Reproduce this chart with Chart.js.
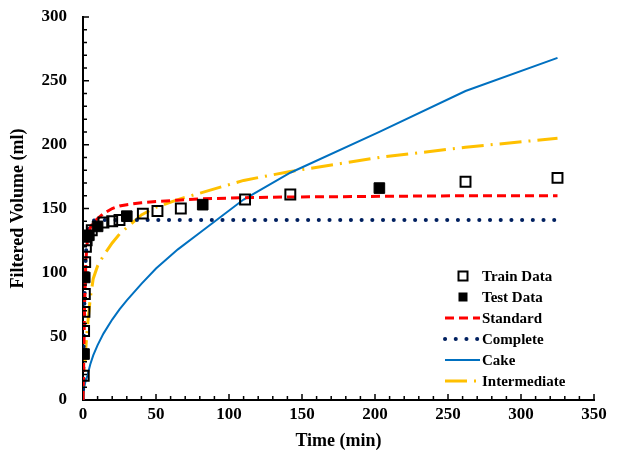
<!DOCTYPE html>
<html>
<head>
<meta charset="utf-8">
<script src="https://cdn.jsdelivr.net/npm/chart.js@4.4.1/dist/chart.umd.min.js"></script>
<style>
  html, body { margin: 0; padding: 0; background: #fff; }
  #wrap { width: 617px; height: 455px; }
</style>
</head>
<body>
<div id="wrap"><canvas id="filterChart" width="617" height="455"></canvas></div>
<script>
// Measured data
const trainTime = [0.5, 0.75, 1, 1.25, 1.5, 2, 2.5, 6, 14, 20, 25, 41, 51, 67, 111, 142, 262, 325];
const trainVolume = [19, 54, 69, 83, 108, 120, 125, 133, 139, 140, 141, 146, 148, 150, 157, 161, 171, 174];
const testTime = [0.7, 1.2, 4, 10, 30, 82, 203];
const testVolume = [36, 96, 129, 136, 144, 153, 166];

// Model curves, evaluated at the same times
const modelTime = [0, 0.5, 1, 2, 3, 5, 7, 10, 14, 20, 25, 30, 40, 50, 65, 80, 110, 142, 203, 262, 325];
const standardVolume = [0, 30, 70, 110, 125, 135, 139, 142, 146, 150, 152, 153, 154.5, 155.5, 156.5, 157.5, 158.5, 159, 159.5, 160, 160];
const completeVolume = [0, 40, 80, 115, 130, 138, 140.5, 141, 141, 141, 141, 141, 141, 141, 141, 141, 141, 141, 141, 141, 141];
const cakeVolume = [0, 7, 11, 16, 19, 28, 35, 43, 52, 63, 71, 78, 91, 103, 118, 131, 157, 178, 210, 242, 268];
const intermediateVolume = [0, 12, 22, 42, 57, 80, 95, 105, 113, 123, 130, 135, 145, 151, 157, 162, 172, 179, 190, 198, 205];

const xTicks = [0, 50, 100, 150, 200, 250, 300, 350];
const yTicks = [0, 50, 100, 150, 200, 250, 300];

const serif = '"Liberation Serif", "Times New Roman", serif';

function toPoints(xs, ys) {
    return xs.map((x, i) => ({ x: x, y: ys[i] }));
}

// Inward tick marks on both axes (minor every 10, major every 50)
const tickMarks = {
    id: 'tickMarks',
    afterDraw(chart) {
        const { ctx, chartArea, scales } = chart;
        ctx.save();
        ctx.strokeStyle = '#000';
        ctx.lineWidth = 1.5;
        ctx.beginPath();
        for (let v = 10; v <= 350; v += 10) {
            const px = scales.x.getPixelForValue(v);
            const len = v % 50 === 0 ? 6 : 4;
            ctx.moveTo(px, chartArea.bottom);
            ctx.lineTo(px, chartArea.bottom - len);
        }
        for (let v = 10; v <= 300; v += 10) {
            const py = scales.y.getPixelForValue(v);
            const len = v % 50 === 0 ? 6 : 4;
            ctx.moveTo(chartArea.left, py);
            ctx.lineTo(chartArea.left + len, py);
        }
        ctx.stroke();
        ctx.restore();
    }
};

// Legend drawn inside the plot, lower right
const insideLegend = {
    id: 'insideLegend',
    afterDraw(chart) {
        const ctx = chart.ctx;
        const x0 = 445, x1 = 480, textX = 482;
        const rows = [276, 297, 318, 339, 360, 381];
        ctx.save();
        ctx.font = 'bold 15px ' + serif;
        ctx.textBaseline = 'middle';
        ctx.fillStyle = '#000';
        chart.data.datasets.forEach((ds, i) => {
            const y = rows[i];
            if (!ds.showLine) {
                const s = 9;
                ctx.lineWidth = 2;
                ctx.strokeStyle = '#000';
                if (ds.backgroundColor === '#000') {
                    ctx.fillStyle = '#000';
                    ctx.fillRect(463 - s / 2, y - s / 2, s, s);
                } else {
                    ctx.strokeRect(463 - s / 2, y - s / 2, s, s);
                }
            } else {
                ctx.beginPath();
                ctx.strokeStyle = ds.borderColor;
                ctx.lineWidth = ds.borderWidth;
                ctx.lineCap = ds.borderCapStyle || 'butt';
                ctx.setLineDash(ds.borderDash || []);
                ctx.moveTo(x0, y);
                ctx.lineTo(x1, y);
                ctx.stroke();
                ctx.setLineDash([]);
                ctx.lineCap = 'butt';
            }
            ctx.fillStyle = '#000';
            ctx.fillText(ds.label, textX, y + 1);
        });
        ctx.restore();
    }
};

new Chart(document.getElementById('filterChart'), {
    type: 'scatter',
    data: {
        datasets: [
            {
                label: 'Train Data',
                data: toPoints(trainTime, trainVolume),
                pointStyle: 'rect',
                pointRadius: 7,
                borderColor: '#000',
                backgroundColor: 'rgba(0,0,0,0)',
                borderWidth: 2,
                showLine: false
            },
            {
                label: 'Test Data',
                data: toPoints(testTime, testVolume),
                pointStyle: 'rect',
                pointRadius: 7.5,
                borderColor: '#000',
                backgroundColor: '#000',
                borderWidth: 1,
                showLine: false
            },
            {
                label: 'Standard',
                data: toPoints(modelTime, standardVolume),
                showLine: true,
                pointRadius: 0,
                borderColor: '#FF0000',
                borderWidth: 3,
                borderDash: [9, 5],
                tension: 0
            },
            {
                label: 'Complete',
                data: toPoints(modelTime, completeVolume),
                showLine: true,
                pointRadius: 0,
                borderColor: '#002060',
                borderWidth: 4,
                borderDash: [0.1, 10.6],
                borderCapStyle: 'round',
                tension: 0
            },
            {
                label: 'Cake',
                data: toPoints(modelTime, cakeVolume),
                showLine: true,
                pointRadius: 0,
                borderColor: '#0070C0',
                borderWidth: 2,
                tension: 0
            },
            {
                label: 'Intermediate',
                data: toPoints(modelTime, intermediateVolume),
                showLine: true,
                pointRadius: 0,
                borderColor: '#FFC000',
                borderWidth: 3,
                borderDash: [22, 7, 2, 7],
                tension: 0
            }
        ]
    },
    options: {
        responsive: false,
        animation: false,
        layout: {
            padding: { top: 17, right: 23, bottom: 0, left: 0 }
        },
        plugins: {
            legend: { display: false },
            tooltip: { enabled: false }
        },
        scales: {
            x: {
                type: 'linear',
                min: 0,
                max: 350,
                afterBuildTicks: (scale) => {
                    scale.ticks = xTicks.map(v => ({ value: v }));
                },
                afterFit: (scale) => {
                    scale.height = 55;
                    scale.paddingLeft = 0;
                    scale.paddingRight = 0;
                },
                grid: { display: false, drawTicks: false },
                border: { display: true, color: '#000', width: 2 },
                ticks: {
                    padding: 4,
                    color: '#000',
                    font: { family: serif, size: 17, weight: 'bold' }
                },
                title: {
                    display: true,
                    text: 'Time (min)',
                    color: '#000',
                    padding: { top: 0, bottom: 3 },
                    font: { family: serif, size: 18, weight: 'bold' }
                }
            },
            y: {
                type: 'linear',
                min: 0,
                max: 300,
                afterBuildTicks: (scale) => {
                    scale.ticks = yTicks.map(v => ({ value: v }));
                },
                afterFit: (scale) => {
                    scale.width = 83;
                    scale.paddingTop = 0;
                    scale.paddingBottom = 0;
                },
                grid: { display: false, drawTicks: false },
                border: { display: true, color: '#000', width: 2 },
                ticks: {
                    padding: 16,
                    color: '#000',
                    font: { family: serif, size: 17, weight: 'bold' }
                },
                title: {
                    display: true,
                    text: 'Filtered Volume (ml)',
                    color: '#000',
                    padding: { top: 8, bottom: 0 },
                    font: { family: serif, size: 18, weight: 'bold' }
                }
            }
        }
    },
    plugins: [tickMarks, insideLegend]
});
</script>
</body>
</html>
